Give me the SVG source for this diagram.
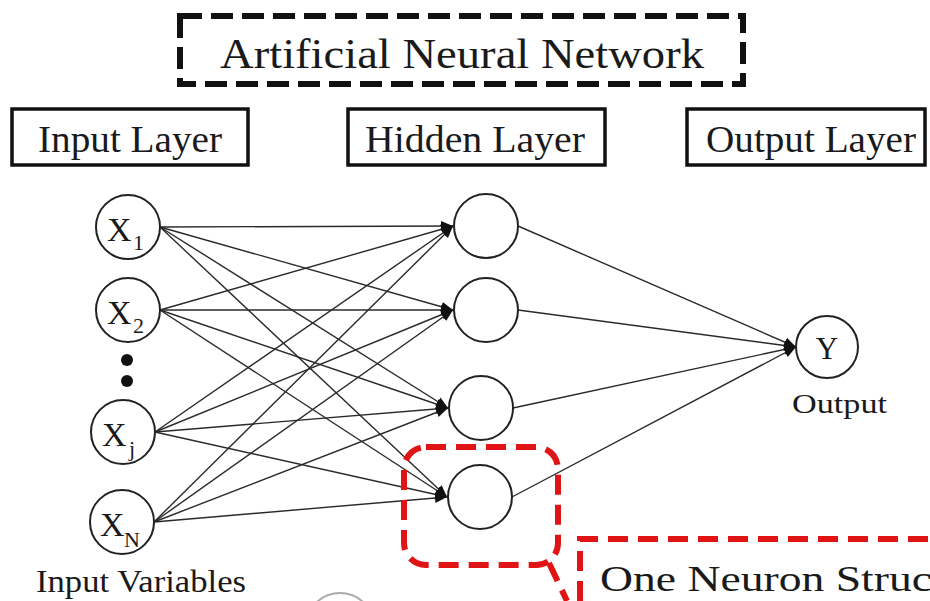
<svg xmlns="http://www.w3.org/2000/svg" width="930" height="601" viewBox="0 0 930 601">
  <style>
    .serif { font-family: "Liberation Serif", "DejaVu Serif", serif; fill: #1a1a1a; }
    .node { fill: #fff; stroke: #222; stroke-width: 2; }
    .edge { stroke: #2a2a2a; stroke-width: 1.4; fill: none; }
    .layerbox { fill: #fff; stroke: #111; stroke-width: 3.5; }
    .reddash { fill: none; stroke: #e01414; stroke-width: 6; stroke-dasharray: 20 10; }
  </style>
  <defs>
    <marker id="arrow" markerUnits="userSpaceOnUse" markerWidth="14" markerHeight="12" refX="12" refY="6" orient="auto">
      <path d="M0,1 L12,6 L0,11 Z" fill="#111"/>
    </marker>
  </defs>
  <rect width="930" height="601" fill="#fff"/>

  <!-- title -->
  <g id="title">
    <rect x="180" y="16" width="563" height="68" fill="none" stroke="#111" stroke-width="6" stroke-dasharray="22 9"/>
    <text class="serif" x="220" y="68" font-size="43" textLength="484" lengthAdjust="spacingAndGlyphs">Artificial Neural Network</text>
  </g>

  <!-- layer headers -->
  <g id="input-layer-label">
    <rect class="layerbox" x="12" y="109" width="236" height="56"/>
    <text class="serif" x="38" y="152" font-size="38" textLength="184" lengthAdjust="spacingAndGlyphs">Input Layer</text>
  </g>
  <g id="hidden-layer-label">
    <rect class="layerbox" x="348" y="109" width="257" height="56"/>
    <text class="serif" x="365" y="152" font-size="38" textLength="220" lengthAdjust="spacingAndGlyphs">Hidden Layer</text>
  </g>
  <g id="output-layer-label">
    <rect class="layerbox" x="687" y="109" width="238" height="56"/>
    <text class="serif" x="706" y="152" font-size="38" textLength="210" lengthAdjust="spacingAndGlyphs">Output Layer</text>
  </g>

  <!-- connectors -->
  <g id="connectors">
    <g marker-end="url(#arrow)">
      <line class="edge" x1="160" y1="227" x2="453" y2="226"/>
      <line class="edge" x1="160" y1="227" x2="453" y2="310"/>
      <line class="edge" x1="160" y1="227" x2="448" y2="408"/>
      <line class="edge" x1="160" y1="227" x2="447" y2="497"/>
      <line class="edge" x1="160" y1="310" x2="453" y2="226"/>
      <line class="edge" x1="160" y1="310" x2="453" y2="310"/>
      <line class="edge" x1="160" y1="310" x2="448" y2="408"/>
      <line class="edge" x1="160" y1="310" x2="447" y2="497"/>
      <line class="edge" x1="155" y1="432" x2="453" y2="226"/>
      <line class="edge" x1="155" y1="432" x2="453" y2="310"/>
      <line class="edge" x1="155" y1="432" x2="448" y2="408"/>
      <line class="edge" x1="155" y1="432" x2="447" y2="497"/>
      <line class="edge" x1="154" y1="522" x2="453" y2="226"/>
      <line class="edge" x1="154" y1="522" x2="453" y2="310"/>
      <line class="edge" x1="154" y1="522" x2="448" y2="408"/>
      <line class="edge" x1="154" y1="522" x2="447" y2="497"/>
      <line class="edge" x1="518" y1="226" x2="796" y2="347"/>
      <line class="edge" x1="518" y1="310" x2="796" y2="347"/>
      <line class="edge" x1="513" y1="408" x2="796" y2="347"/>
      <line class="edge" x1="512" y1="497" x2="796" y2="347"/>
    </g>
  </g>

  <!-- input nodes -->
  <g id="x1">
    <circle class="node" cx="128" cy="227" r="32"/>
    <text class="serif" x="107" y="241" font-size="34">X</text>
    <text class="serif" x="133" y="250" font-size="22">1</text>
  </g>
  <g id="x2">
    <circle class="node" cx="128" cy="310" r="32"/>
    <text class="serif" x="107" y="324" font-size="34">X</text>
    <text class="serif" x="133" y="333" font-size="22">2</text>
  </g>
  <g id="ellipsis">
    <circle cx="127" cy="360" r="6" fill="#111"/>
    <circle cx="127" cy="381" r="6" fill="#111"/>
  </g>
  <g id="xj">
    <circle class="node" cx="123" cy="432" r="32"/>
    <text class="serif" x="102" y="446" font-size="34">X</text>
    <text class="serif" x="129" y="456" font-size="22">j</text>
  </g>
  <g id="xn">
    <circle class="node" cx="122" cy="522" r="32"/>
    <text class="serif" x="100" y="536" font-size="34">X</text>
    <text class="serif" x="124" y="547" font-size="22">N</text>
  </g>
  <g id="input-variables-label">
    <text class="serif" x="36" y="592" font-size="32" textLength="210" lengthAdjust="spacingAndGlyphs">Input Variables</text>
  </g>

  <!-- hidden nodes -->
  <g id="h1"><circle class="node" cx="486" cy="226" r="32"/></g>
  <g id="h2"><circle class="node" cx="486" cy="310" r="32"/></g>
  <g id="h3"><circle class="node" cx="481" cy="408" r="32"/></g>
  <g id="h4"><circle class="node" cx="480" cy="497" r="32"/></g>

  <!-- output node -->
  <g id="y">
    <circle class="node" cx="827" cy="347" r="31"/>
    <text class="serif" x="827" y="359" font-size="31" text-anchor="middle">Y</text>
  </g>
  <g id="output-label">
    <text class="serif" x="792" y="413" font-size="28" textLength="95" lengthAdjust="spacingAndGlyphs">Output</text>
  </g>

  <!-- single neuron highlight and detail panel -->
  <g id="neuron-highlight">
    <rect class="reddash" x="404" y="447" width="154" height="118" rx="22"/>
    <line class="reddash" x1="549" y1="563" x2="567" y2="601" stroke-dasharray="18 8"/>
  </g>
  <g id="neuron-structure">
    <path class="reddash" d="M580,601 L580,539 L930,539"/>
    <text class="serif" x="600" y="591" font-size="36" textLength="332" lengthAdjust="spacingAndGlyphs">One Neuron Struc</text>
    <circle cx="340" cy="627" r="34" fill="none" stroke="#aaa" stroke-width="2"/>
  </g>
</svg>
